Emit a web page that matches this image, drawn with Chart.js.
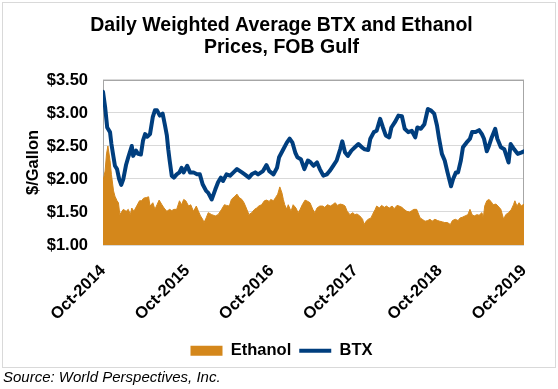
<!DOCTYPE html>
<html>
<head>
<meta charset="utf-8">
<script src="https://cdn.jsdelivr.net/npm/chart.js@4.4.1/dist/chart.umd.min.js"></script>
<style>
  body { margin: 0; background: #fff; font-family: "Liberation Sans", Arial, sans-serif; }
  #box { position: absolute; left: 2px; top: 2px; width: 552px; height: 364px; border: 1px solid #d9d9d9; }
  #grafico { position: absolute; left: 0; top: 0; }
  #source { position: absolute; left: 3px; top: 368px; font-style: italic; font-size: 15px; line-height: 17px; color: #000; }
</style>
</head>
<body>
<div id="box"><canvas id="grafico" width="552" height="366"></canvas></div>
<div id="source">Source: World Perspectives, Inc.</div>
<script>
// months counted from Oct-2014
const xLabels = ['Oct-2014', 'Oct-2015', 'Oct-2016', 'Oct-2017', 'Oct-2018', 'Oct-2019'];

const btxMonth = [
  0, 0.3, 0.6, 1.0, 1.2, 1.5, 1.7, 2.0, 2.3, 2.6,
  2.9, 3.3, 3.6, 4.1, 4.3, 4.7, 5.0, 5.4, 5.7, 6.0,
  6.3, 6.7, 7.1, 7.4, 7.7, 8.1, 8.5, 8.8, 9.1, 9.3,
  9.5, 9.8, 10.1, 10.5, 10.9, 11.2, 11.5, 12.0, 12.4, 12.9,
  13.4, 13.8, 14.2, 14.7, 15.0, 15.5, 16.0, 16.4, 16.8, 17.1,
  17.6, 18.1, 18.6, 19.1, 19.8, 20.2, 20.8, 21.2, 21.7, 22.1,
  22.8, 23.3, 23.7, 24.3, 24.8, 25.1, 25.7, 26.2, 26.6, 27.0,
  27.4, 27.7, 28.2, 28.7, 29.2, 29.6, 30.0, 30.5, 30.9, 31.4,
  31.9, 32.3, 32.8, 33.3, 33.8, 34.1, 34.5, 34.9, 35.4, 35.9,
  36.4, 36.9, 37.3, 37.8, 38.1, 38.6, 39.0, 39.5, 39.9, 40.3,
  40.8, 41.1, 41.6, 42.1, 42.6, 43.0, 43.5, 44.0, 44.5, 44.8,
  45.3, 45.8, 46.3, 46.7, 47.2, 47.6, 47.9, 48.3, 48.7, 49.1,
  49.6, 49.9, 50.3, 50.6, 51.0, 51.3, 51.8, 52.3, 52.6, 53.1,
  53.6, 54.0, 54.3, 54.7, 55.0, 55.4, 55.9, 56.2, 56.7, 57.2,
  57.5, 57.8, 58.1, 58.6, 59.1, 59.6, 60.0
];
const btxPrice = [
  3.32, 3.09, 2.78, 2.71, 2.53, 2.33, 2.20, 2.15, 2.00, 1.91,
  2.00, 2.22, 2.33, 2.50, 2.35, 2.43, 2.38, 2.37, 2.58, 2.68,
  2.64, 2.68, 2.94, 3.04, 3.04, 2.96, 2.99, 2.83, 2.66, 2.45,
  2.28, 2.05, 2.02, 2.07, 2.10, 2.17, 2.10, 2.20, 2.10, 2.10,
  2.07, 2.07, 1.92, 1.82, 1.79, 1.69, 1.84, 1.95, 2.02, 1.97,
  2.07, 2.05, 2.10, 2.15, 2.10, 2.07, 2.02, 2.07, 2.10, 2.07,
  2.12, 2.21, 2.12, 2.07, 2.17, 2.33, 2.45, 2.55, 2.61, 2.55,
  2.40, 2.33, 2.30, 2.15, 2.28, 2.25, 2.20, 2.25, 2.15, 2.05,
  2.07, 2.12, 2.20, 2.28, 2.45, 2.57, 2.40, 2.35, 2.43, 2.48,
  2.53, 2.48, 2.45, 2.44, 2.61, 2.71, 2.73, 2.91, 2.78, 2.66,
  2.63, 2.78, 2.86, 2.96, 2.95, 2.76, 2.71, 2.73, 2.63, 2.78,
  2.76, 2.83, 3.06, 3.04, 2.99, 2.81, 2.61, 2.38, 2.28, 2.10,
  1.89, 2.00, 2.10, 2.10, 2.28, 2.48, 2.55, 2.61, 2.71, 2.71,
  2.74, 2.68, 2.61, 2.42, 2.50, 2.63, 2.76, 2.61, 2.48, 2.45,
  2.35, 2.25, 2.53, 2.45, 2.38, 2.40, 2.42
];

const ethanolMonth = [
  0.0, 0.3, 0.5, 0.7, 1.0, 1.2, 1.5, 1.7, 2.0, 2.2,
  2.4, 2.7, 2.9, 3.3, 3.6, 3.9, 4.1, 4.4, 4.8, 5.2,
  5.5, 5.8, 6.2, 6.5, 6.7, 7.1, 7.4, 7.7, 8.0, 8.4,
  8.7, 9.1, 9.5, 9.8, 10.1, 10.5, 10.9, 11.2, 11.5, 11.8,
  12.2, 12.5, 12.9, 13.3, 13.6, 13.9, 14.2, 14.4, 14.7, 15.0,
  15.5, 16.0, 16.4, 16.9, 17.3, 17.6, 18.0, 18.3, 18.7, 19.1,
  19.4, 19.8, 20.1, 20.5, 20.8, 21.2, 21.6, 21.9, 22.2, 22.6,
  23.0, 23.3, 23.7, 23.9, 24.3, 24.6, 24.9, 25.2, 25.5, 25.7,
  25.9, 26.2, 26.4, 26.8, 27.1, 27.5, 27.8, 28.1, 28.4, 28.8,
  29.2, 29.5, 29.9, 30.2, 30.5, 30.9, 31.3, 31.6, 32.0, 32.4,
  32.7, 33.1, 33.4, 33.8, 34.2, 34.5, 34.8, 35.2, 35.6, 35.9,
  36.2, 36.6, 37.0, 37.2, 37.5, 37.8, 38.2, 38.4, 38.8, 39.0,
  39.4, 39.7, 40.1, 40.4, 40.8, 41.2, 41.5, 41.9, 42.2, 42.6,
  42.9, 43.3, 43.7, 44.0, 44.3, 44.7, 45.2, 45.5, 45.9, 46.3,
  46.6, 46.9, 47.3, 47.7, 48.0, 48.4, 48.7, 49.1, 49.5, 49.8,
  50.2, 50.6, 50.9, 51.2, 51.6, 52.0, 52.3, 52.6, 52.9, 53.3,
  53.6, 54.0, 54.2, 54.4, 54.7, 55.0, 55.3, 55.6, 56.0, 56.3,
  56.7, 57.1, 57.4, 57.8, 58.2, 58.5, 58.7, 59.0, 59.3, 59.6,
  60.0
];
const ethanolPrice = [
  1.97, 2.12, 2.38, 2.50, 2.28, 2.07, 1.82, 1.74, 1.67, 1.64,
  1.46, 1.51, 1.54, 1.51, 1.54, 1.46, 1.56, 1.51, 1.59, 1.67,
  1.67, 1.71, 1.72, 1.73, 1.59, 1.64, 1.54, 1.61, 1.68, 1.61,
  1.56, 1.51, 1.54, 1.52, 1.54, 1.54, 1.67, 1.61, 1.69, 1.67,
  1.59, 1.61, 1.51, 1.59, 1.51, 1.44, 1.39, 1.34, 1.41, 1.49,
  1.46, 1.44, 1.46, 1.54, 1.61, 1.60, 1.59, 1.69, 1.73, 1.77,
  1.72, 1.69, 1.64, 1.54, 1.46, 1.49, 1.54, 1.56, 1.59, 1.61,
  1.67, 1.68, 1.66, 1.69, 1.67, 1.72, 1.77, 1.88, 1.79, 1.69,
  1.61, 1.54, 1.61, 1.51, 1.61, 1.56, 1.49, 1.54, 1.61, 1.68,
  1.66, 1.64, 1.54, 1.49, 1.56, 1.59, 1.59, 1.57, 1.61, 1.59,
  1.61, 1.64, 1.60, 1.62, 1.61, 1.59, 1.51, 1.46, 1.49, 1.46,
  1.47, 1.44, 1.39, 1.31, 1.36, 1.39, 1.41, 1.46, 1.54, 1.59,
  1.56, 1.60, 1.57, 1.59, 1.56, 1.59, 1.55, 1.60, 1.59, 1.57,
  1.54, 1.51, 1.50, 1.52, 1.54, 1.54, 1.41, 1.39, 1.36, 1.37,
  1.39, 1.36, 1.39, 1.37, 1.36, 1.35, 1.34, 1.34, 1.31, 1.37,
  1.39, 1.37, 1.41, 1.42, 1.44, 1.46, 1.54, 1.46, 1.44, 1.46,
  1.45, 1.49, 1.41, 1.59, 1.67, 1.69, 1.66, 1.61, 1.62, 1.59,
  1.54, 1.39, 1.46, 1.49, 1.54, 1.61, 1.67, 1.59, 1.64, 1.59,
  1.62
];

const corEtanol = '#d4871b';
const corBtx = '#003e7e';
const fonte = '"Liberation Sans", Arial, sans-serif';

const ctx = document.getElementById('grafico').getContext('2d');

// moldura cinza da area do grafico
const plotBorder = {
  id: 'plotBorder',
  beforeDatasetsDraw(chart) {
    const a = chart.chartArea;
    const c = chart.ctx;
    c.save();
    c.strokeStyle = '#a6a6a6';
    c.lineWidth = 1;
    c.strokeRect(Math.round(a.left) + 0.5, Math.round(a.top) + 0.5,
      Math.round(a.width) - 1, Math.round(a.height) - 1);
    c.restore();
  }
};

function toPoints(xs, ys) {
  return xs.map((x, i) => ({ x: x, y: ys[i] }));
}

const myChart = new Chart(ctx, {
  type: 'line',
  data: {
    datasets: [
      {
        label: 'BTX',
        data: toPoints(btxMonth, btxPrice),
        borderColor: corBtx,
        backgroundColor: corBtx,
        borderWidth: 4,
        borderJoinStyle: 'round',
        borderCapStyle: 'round',
        pointRadius: 0,
        tension: 0,
        fill: false
      },
      {
        label: 'Ethanol',
        data: toPoints(ethanolMonth, ethanolPrice),
        borderColor: corEtanol,
        backgroundColor: corEtanol,
        borderWidth: 1,
        pointRadius: 0,
        tension: 0,
        fill: 'start'
      }
    ]
  },
  options: {
    responsive: false,
    animation: false,
    layout: { padding: { left: 5, right: 0, top: 0, bottom: 0 } },
    plugins: {
      tooltip: { enabled: false },
      title: {
        display: true,
        text: ['Daily Weighted Average BTX and Ethanol', 'Prices, FOB Gulf'],
        color: '#000',
        font: { family: fonte, size: 19.5, weight: 'bold', lineHeight: 1.145 },
        padding: { top: 11, bottom: 21.3 }
      },
      legend: {
        position: 'bottom',
        reverse: true,
        labels: {
          color: '#000',
          font: { family: fonte, size: 16.5, weight: 'bold' },
          usePointStyle: true,
          pointStyleWidth: 32,
          boxHeight: 10,
          padding: 8,
          generateLabels(chart) {
            const items = Chart.defaults.plugins.legend.labels.generateLabels(chart);
            items.forEach(item => {
              if (item.text === 'BTX') {
                item.pointStyle = 'line';
                item.lineWidth = 4;
                item.strokeStyle = corBtx;
              } else {
                item.pointStyle = 'rect';
                item.lineWidth = 0;
                item.fillStyle = corEtanol;
                item.strokeStyle = corEtanol;
              }
            });
            return items;
          }
        }
      }
    },
    scales: {
      x: {
        type: 'linear',
        min: 0,
        max: 60,
        afterFit(scale) { scale.height = 89.5; },
        grid: { display: false, drawTicks: false },
        border: { display: false },
        ticks: {
          stepSize: 12,
          autoSkip: false,
          maxRotation: 45,
          minRotation: 45,
          padding: 16,
          color: '#000',
          font: { family: fonte, size: 16.5, weight: 'bold' },
          callback: (v) => xLabels[v / 12]
        }
      },
      y: {
        min: 1,
        max: 3.5,
        afterFit(scale) { scale.width = 95; },
        grid: { color: '#d9d9d9', drawTicks: false },
        border: { display: false },
        ticks: {
          stepSize: 0.5,
          padding: 15,
          color: '#000',
          font: { family: fonte, size: 16.5, weight: 'bold' },
          callback: (v) => '$' + v.toFixed(2)
        },
        title: {
          display: true,
          text: '$/Gallon',
          color: '#000',
          padding: { top: 16, bottom: 4 },
          font: { family: fonte, size: 16.5, weight: 'bold' }
        }
      },
      // espaco vazio a direita (so para centralizar a legenda)
      yRight: {
        position: 'right',
        afterFit(scale) { scale.width = 31; },
        grid: { display: false, drawTicks: false },
        border: { display: false },
        ticks: { display: false }
      }
    }
  },
  plugins: [plotBorder]
});
</script>
</body>
</html>
